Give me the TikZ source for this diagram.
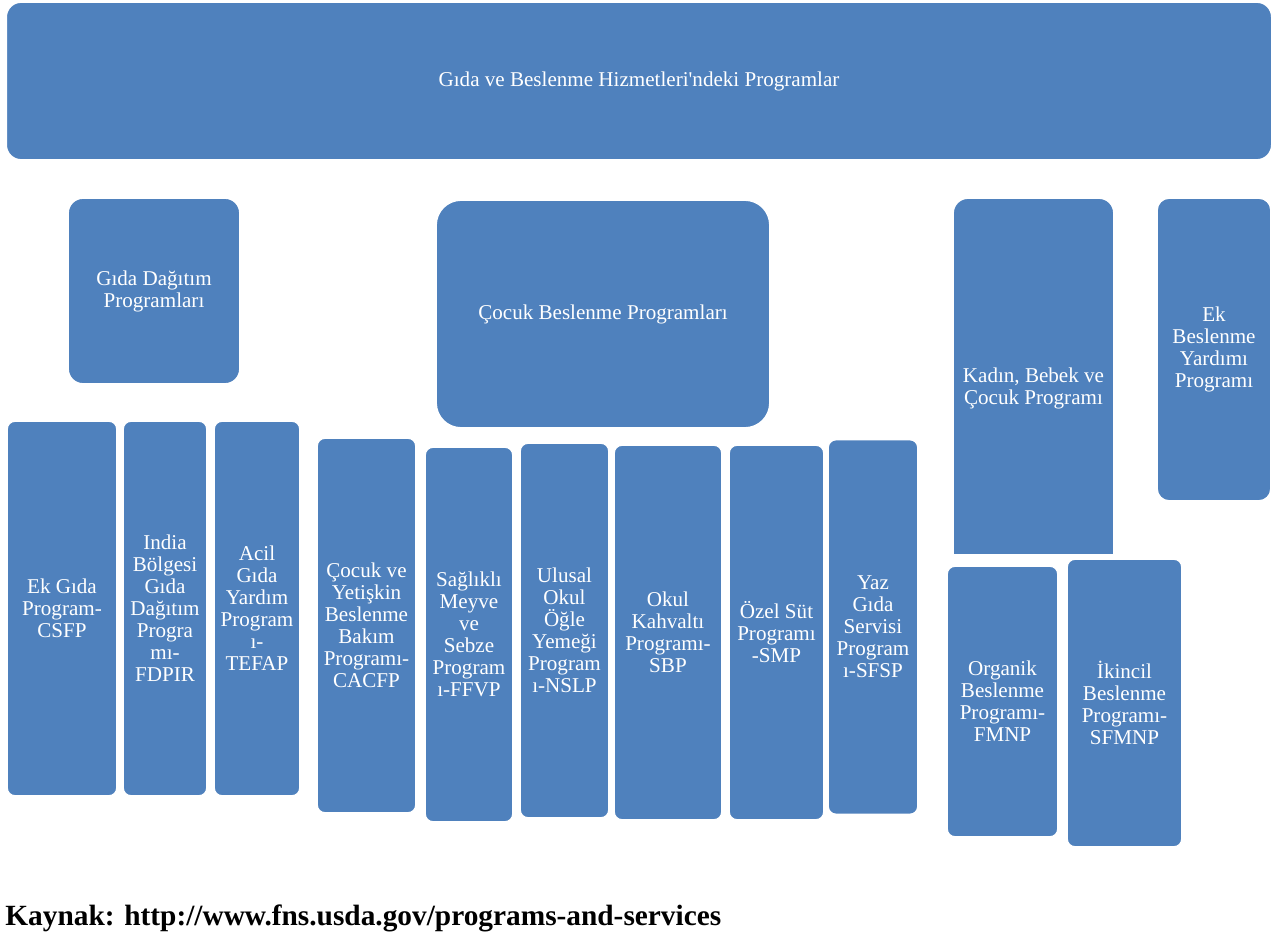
\documentclass[tikz,border=0pt]{standalone}
\usepackage{fontspec}
\setmainfont{Liberation Serif}
\usepackage{tikz}
\definecolor{fnsblue}{HTML}{4F81BD}

\begin{document}
\begin{tikzpicture}[x=0.02cm, y=-0.02cm,
  prog/.style={rectangle, rounded corners=0.16cm, fill=fnsblue, draw=white, line width=1pt,
    text=white, inner sep=0pt, align=center, font=\fontsize{12}{12.5}\selectfont},
  sub/.style={prog, minimum height=7.5cm}]
  \useasboundingbox (0,0) rectangle (1285,945);

  \node[prog, rounded corners=0.3cm, minimum width=25.32cm, minimum height=3.16cm] (fns) at (639,81)
    {Gıda ve Beslenme Hizmetleri\textquotesingle ndeki Programlar};

  \node[prog, rounded corners=0.3cm, minimum width=3.44cm, minimum height=3.72cm] (gdp) at (154,291)
    {Gıda Dağıtım\\ Programları};
  \node[prog, rounded corners=0.5cm, minimum width=6.68cm, minimum height=4.56cm] (cbp) at (603,314)
    {Çocuk Beslenme Programları};
  \node[prog, rounded corners=0.3cm, minimum width=3.22cm, minimum height=7.6cm] (wic) at (1033.5,388)
    {Kadın, Bebek ve\\ Çocuk Programı};
  % bottom of wic is cut off flat
  \fill[white] (950,554) rectangle (1117,582);
  \node[prog, rounded corners=0.24cm, minimum width=2.28cm, minimum height=6.06cm] (snap) at (1214,349.5)
    {Ek\\ Beslenme\\ Yardımı\\ Programı};

  % Gida Dagitim
  \node[sub, minimum width=2.2cm] (csfp) at (62,608.5) {Ek Gıda\\ Program-\\ CSFP};
  \node[sub, minimum width=1.68cm] (fdpir) at (165,608.5) {India\\ Bölgesi\\ Gıda\\ Dağıtım\\ Progra\\ mı-\\ FDPIR};
  \node[sub, minimum width=1.72cm] (tefap) at (257,608.5) {Acil\\ Gıda\\ Yardım\\ Program\\ ı-\\ TEFAP};

  % Cocuk Beslenme
  \node[sub, minimum width=1.98cm] (cacfp) at (366.5,625.5) {Çocuk ve\\ Yetişkin\\ Beslenme\\ Bakım\\ Programı-\\ CACFP};
  \node[sub, minimum width=1.76cm] (ffvp) at (469,634.5) {Sağlıklı\\ Meyve\\ ve\\ Sebze\\ Program\\ ı-FFVP};
  \node[sub, minimum width=1.78cm] (nslp) at (564.5,630.5) {Ulusal\\ Okul\\ Öğle\\ Yemeği\\ Program\\ ı-NSLP};
  \node[sub, minimum width=2.16cm] (sbp) at (668,632.5) {Okul\\ Kahvaltı\\ Programı-\\ SBP};
  \node[sub, minimum width=1.90cm] (smp) at (776.5,632.5) {Özel Süt\\ Programı\\ -SMP};
  \node[sub, minimum width=1.80cm] (sfsp) at (873,627) {Yaz\\ Gıda\\ Servisi\\ Program\\ ı-SFSP};

  % Kadin, Bebek
  \node[prog, minimum width=2.22cm, minimum height=5.42cm] (fmnp) at (1002.5,701.5) {Organik\\ Beslenme\\ Programı-\\ FMNP};
  \node[prog, minimum width=2.30cm, minimum height=5.76cm] (sfmnp) at (1124.5,703) {İkincil\\ Beslenme\\ Programı-\\ SFMNP};

  \node[anchor=base west, inner sep=0pt, font=\fontsize{16.7}{18}\selectfont\bfseries] (src) at (5,925)
    {Kaynak: http://www.fns.usda.gov/programs-and-services};
\end{tikzpicture}
\end{document}
